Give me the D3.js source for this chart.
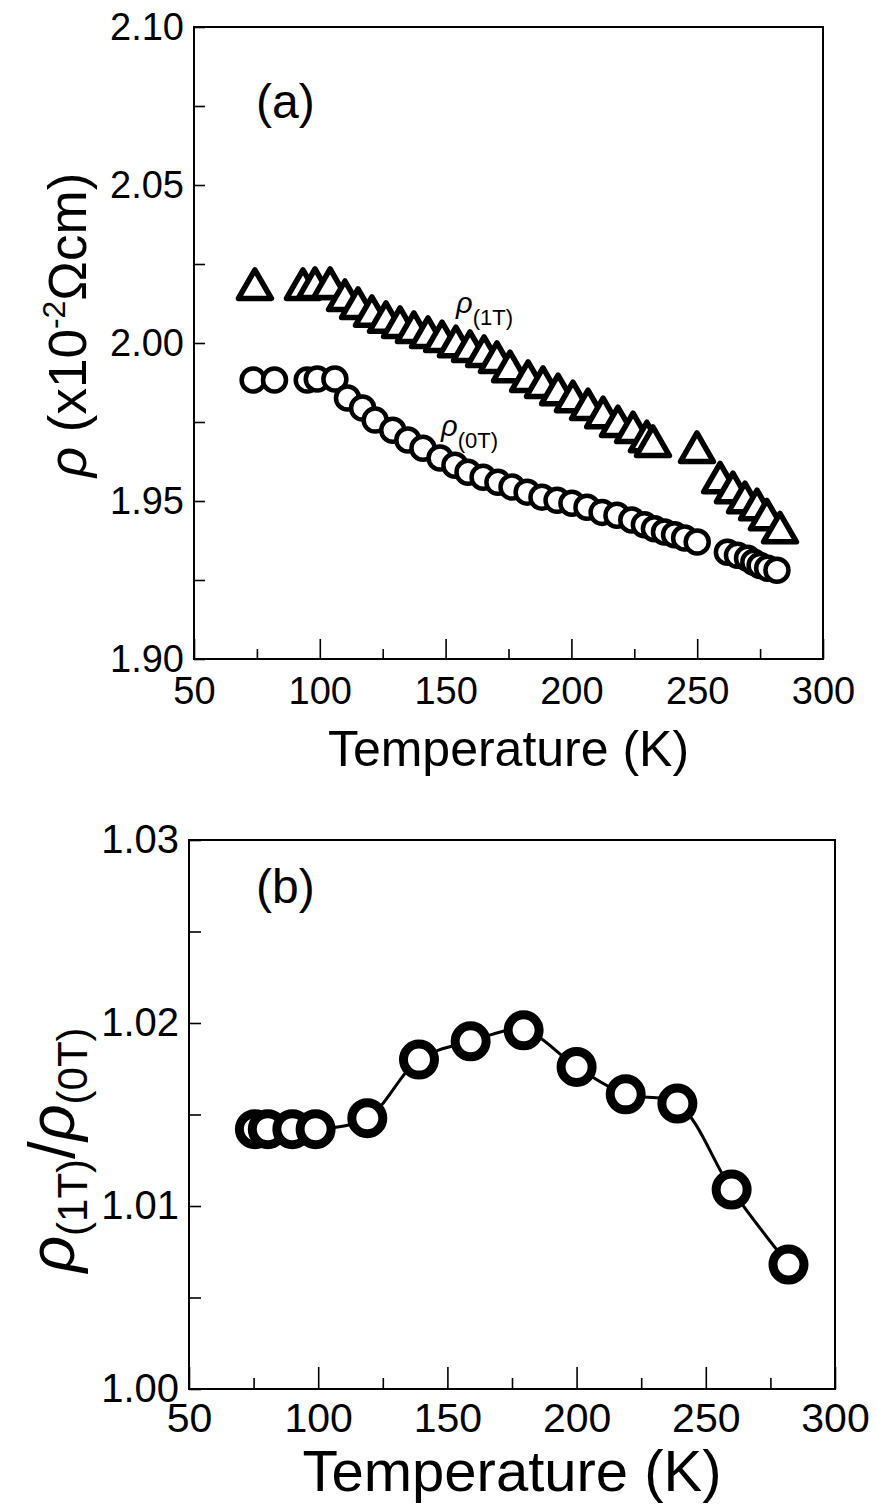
<!DOCTYPE html>
<html>
<head>
<meta charset="utf-8">
<script src="https://cdn.jsdelivr.net/npm/d3@7"></script>
<style>
  body { margin: 0; background: #fff; }
  svg { display: block; font-family: "Liberation Sans", Arial, sans-serif; }
  .tick text { fill: #000; }
</style>
</head>
<body>
<div id="chart"></div>
<script>
// panel (a): resistivity at 0 T and 1 T
let temp0T = [73.5, 82, 95, 99, 106, 111, 117, 122, 129, 135, 141, 147.8, 153.7, 158.9, 164.9, 170.8,
    176.4, 182.4, 188.3, 194.3, 200.2, 206.2, 212.2, 218.1, 224, 229, 233, 237, 241, 245, 250,
    262, 266, 270, 272.5, 275, 278, 281.7];
let rho0T = [1.9883, 1.9883, 1.9883, 1.9886, 1.9886, 1.9826, 1.9794, 1.9756, 1.9724, 1.9693, 1.9667,
    1.9636, 1.9613, 1.9591, 1.9575, 1.9559, 1.9544, 1.9528, 1.9512, 1.9502, 1.9493, 1.9480, 1.9464,
    1.9455, 1.9440, 1.9425, 1.9412, 1.9402, 1.9393, 1.9383, 1.9370, 1.9338, 1.9328, 1.9319, 1.9306,
    1.9296, 1.9287, 1.9281];

let temp1T = [74.2, 93.3, 98.1, 104.1, 110.0, 115.2, 120.7, 126.3, 131.9, 137.4, 143.0, 148.6, 154.1,
    159.7, 165.3, 170.4, 175.6, 182.8, 188.7, 194.7, 200.6, 206.6, 212.6, 218.5, 224.5, 230.0, 232.4,
    249.9, 259.1, 264.2, 269.0, 273.8, 277.7, 282.9];
let rho1T = [2.0171, 2.0171, 2.0174, 2.0174, 2.0136, 2.0111, 2.0086, 2.0067, 2.0051, 2.0035, 2.0019,
    2.0006, 1.9990, 1.9975, 1.9959, 1.9940, 1.9911, 1.9880, 1.9861, 1.9838, 1.9816, 1.9791, 1.9765,
    1.9737, 1.9718, 1.9689, 1.9674, 1.9655, 1.9559, 1.9528, 1.9496, 1.9474, 1.9442, 1.9401];

// panel (b): ratio rho(1T)/rho(0T)
let tempRatio = [75.5, 80.5, 90, 99, 119, 139, 159, 179.5, 200, 219, 239, 260, 282];
let ratio = [1.0142, 1.0142, 1.0142, 1.0142, 1.0148, 1.0180, 1.0190, 1.0196, 1.0176, 1.0161, 1.0156,
    1.0109, 1.0068];

// ticks
let xMajor = [50, 100, 150, 200, 250, 300];
let xMinor = [75, 125, 175, 225, 275];
let yMajorA = [1.90, 1.95, 2.00, 2.05, 2.10];
let yMinorA = [1.925, 1.975, 2.025, 2.075];
let yMajorB = [1.00, 1.01, 1.02, 1.03];
let yMinorB = [1.005, 1.015, 1.025];

let svg = d3.select("#chart").append("svg")
    .attr("width", 877)
    .attr("height", 1506);

// draws frame, ticks and labels for one panel
function drawFrame(x, y, opt) {
    let g = svg.append("g");
    let [x0, x1] = x.range();
    let [y0, y1] = y.range(); // y0 bottom, y1 top

    // x axis major + minor (ticks pointing inward)
    g.append("g")
        .attr("transform", "translate(0," + y0 + ")")
        .call(d3.axisBottom(x).tickValues(xMajor).tickSizeInner(-opt.xTick).tickSizeOuter(0)
            .tickPadding(opt.xPad).tickFormat(d3.format("d")))
        .call(a => a.select(".domain").remove())
        .call(a => a.selectAll("text").style("font-size", opt.xFont + "px"));
    g.append("g")
        .attr("transform", "translate(0," + y0 + ")")
        .call(d3.axisBottom(x).tickValues(xMinor).tickSizeInner(-opt.xTick / 2).tickSizeOuter(0).tickFormat(""))
        .call(a => a.select(".domain").remove());

    // y axis major + minor
    g.append("g")
        .attr("transform", "translate(" + x0 + ",0)")
        .call(d3.axisLeft(y).tickValues(opt.yMajor).tickSizeInner(-opt.yTick).tickSizeOuter(0)
            .tickPadding(opt.yPad).tickFormat(d3.format(".2f")))
        .call(a => a.select(".domain").remove())
        .call(a => a.selectAll("text").style("font-size", opt.yFont + "px"));
    g.append("g")
        .attr("transform", "translate(" + x0 + ",0)")
        .call(d3.axisLeft(y).tickValues(opt.yMinor).tickSizeInner(-opt.yTick).tickSizeOuter(0).tickFormat(""))
        .call(a => a.select(".domain").remove());

    g.selectAll(".tick line").attr("stroke", "#000").attr("stroke-width", 1.6);

    // box
    g.append("rect")
        .attr("x", x0).attr("y", y1)
        .attr("width", x1 - x0).attr("height", y0 - y1)
        .attr("fill", "none").attr("stroke", "#000").attr("stroke-width", 2);

    // x title
    g.append("text")
        .attr("x", (x0 + x1) / 2).attr("y", opt.titleY)
        .attr("text-anchor", "middle")
        .style("font-size", opt.titleFont + "px")
        .text("Temperature (K)");
}

// ---------- panel (a) ----------
let xA = d3.scaleLinear().domain([50, 300]).range([194, 823]);
let yA = d3.scaleLinear().domain([1.90, 2.10]).range([659, 27]);

drawFrame(xA, yA, {
    xTick: 20, xPad: 18, xFont: 38, yTick: 11, yPad: 10, yFont: 38,
    yMajor: yMajorA, yMinor: yMinorA, titleY: 766, titleFont: 50
});

let triangle = d3.symbol().type(d3.symbolTriangle).size(470);

svg.append("g").selectAll("path")
    .data(temp1T.map((t, i) => ({t: t, v: rho1T[i]})))
    .join("path")
    .attr("d", triangle)
    .attr("transform", d => "translate(" + xA(d.t) + "," + yA(d.v) + ")")
    .attr("fill", "#fff").attr("stroke", "#000").attr("stroke-width", 5.5)
    .attr("stroke-linejoin", "round");

svg.append("g").selectAll("circle")
    .data(temp0T.map((t, i) => ({t: t, v: rho0T[i]})))
    .join("circle")
    .attr("cx", d => xA(d.t)).attr("cy", d => yA(d.v))
    .attr("r", 11.5)
    .attr("fill", "#fff").attr("stroke", "#000").attr("stroke-width", 4.5);

// labels in panel (a)
svg.append("text").attr("x", 256).attr("y", 118).style("font-size", "48px").text("(a)");

let l1 = svg.append("text").attr("x", 456).attr("y", 313).style("font-size", "29px");
l1.append("tspan").style("font-style", "italic").text("ρ");
l1.append("tspan").attr("dy", 12).style("font-size", "22px").text("(1T)");

let l0 = svg.append("text").attr("x", 441).attr("y", 436).style("font-size", "29px");
l0.append("tspan").style("font-style", "italic").text("ρ");
l0.append("tspan").attr("dy", 12).style("font-size", "22px").text("(0T)");

let ya = svg.append("text")
    .attr("transform", "translate(86,325) rotate(-90)")
    .attr("text-anchor", "middle")
    .style("font-size", "53px");
ya.append("tspan").style("font-style", "italic").text("ρ");
ya.append("tspan").text(" (x10");
ya.append("tspan").attr("dy", -21).style("font-size", "32px").text("-2");
ya.append("tspan").attr("dy", 21).text("Ωcm)");

// ---------- panel (b) ----------
let xB = d3.scaleLinear().domain([50, 300]).range([189, 835]);
let yB = d3.scaleLinear().domain([1.00, 1.03]).range([1389, 840]);

drawFrame(xB, yB, {
    xTick: 22, xPad: 14, xFont: 41, yTick: 12, yPad: 10, yFont: 40,
    yMajor: yMajorB, yMinor: yMinorB, titleY: 1491, titleFont: 58
});

let ratioData = tempRatio.map((t, i) => ({t: t, v: ratio[i]}));

svg.append("path")
    .datum(ratioData)
    .attr("d", d3.line().x(d => xB(d.t)).y(d => yB(d.v)).curve(d3.curveCatmullRom))
    .attr("fill", "none").attr("stroke", "#000").attr("stroke-width", 3);

svg.append("g").selectAll("circle")
    .data(ratioData)
    .join("circle")
    .attr("cx", d => xB(d.t)).attr("cy", d => yB(d.v))
    .attr("r", 15.5)
    .attr("fill", "#fff").attr("stroke", "#000").attr("stroke-width", 9);

svg.append("text").attr("x", 256).attr("y", 903).style("font-size", "48px").text("(b)");

let yb = svg.append("text")
    .attr("transform", "translate(74,1150) rotate(-90)")
    .attr("text-anchor", "middle")
    .style("font-size", "64px");
yb.append("tspan").style("font-style", "italic").text("ρ");
yb.append("tspan").attr("dy", 13).style("font-size", "42px").text("(1T)");
yb.append("tspan").attr("dy", -13).text("/");
yb.append("tspan").style("font-style", "italic").text("ρ");
yb.append("tspan").attr("dy", 13).style("font-size", "42px").text("(0T)");
</script>
</body>
</html>
